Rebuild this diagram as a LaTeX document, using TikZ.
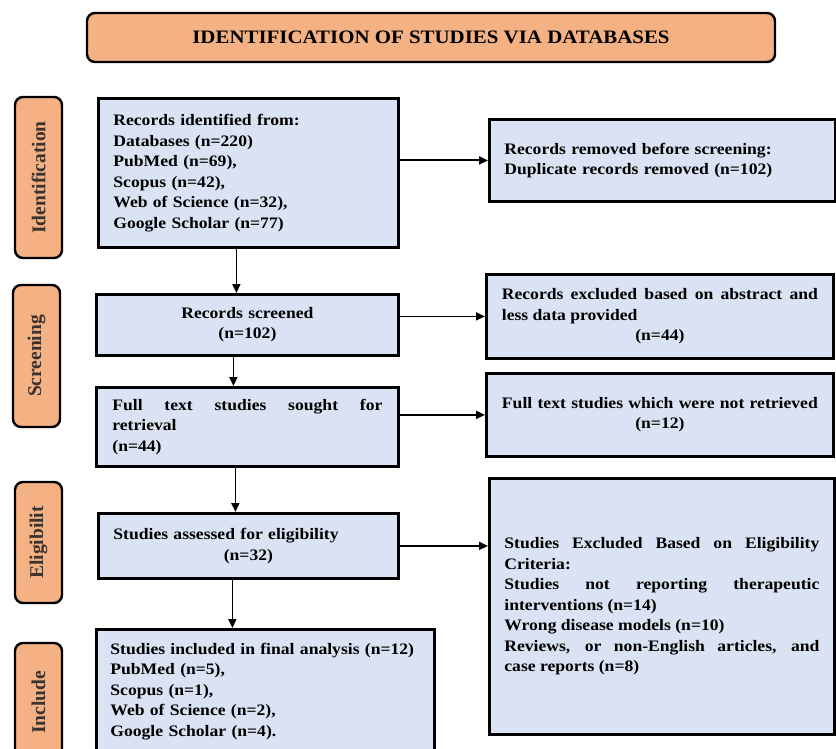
\documentclass[tikz,border=0pt]{standalone}
\usepackage{fontspec}
\setmainfont{Liberation Serif}[FakeStretch=1.1]
\newfontfamily\labelfont{Liberation Serif}
\usetikzlibrary{arrows.meta}
\definecolor{boxblue}{RGB}{218,227,243}
\definecolor{orangefill}{RGB}{244,177,131}
\definecolor{labeltext}{RGB}{60,50,45}
\begin{document}
\begin{tikzpicture}[x=1pt,y=-1pt,
 box/.style={draw, line width=2.8pt, fill=boxblue, inner xsep=15pt, inner ysep=2pt, anchor=north west, font=\fontsize{16}{20.5}\selectfont\bfseries},
 phase/.style={draw, line width=2.4pt, fill=orangefill, rounded corners=8pt, rotate=90, minimum height=47pt, inner sep=0pt, font=\labelfont\fontsize{19.5}{20}\selectfont\bfseries, text=labeltext},
 arr/.style={line width=1.8pt, -{Triangle[length=9pt,width=8pt]}}]
\clip (0,0) rectangle (836,749);
\fill[white] (0,0) rectangle (836,749);

\node[draw, line width=2.4pt, fill=orangefill, rounded corners=8pt, minimum width=688pt, minimum height=49pt, font=\fontsize{19}{22}\selectfont\bfseries] (title) at (431,37.5) {IDENTIFICATION OF STUDIES VIA DATABASES};

\node[phase, minimum width=161pt] (pid) at (38.5,177.5) {Identification};
\node[phase, minimum width=142pt] (psc) at (36.5,356) {Screening};
\node[phase, minimum width=121pt] (pel) at (38.5,542.5) {Eligibilit};
\node[phase, minimum width=119pt] (pin) at (38.5,702.5) {Include};

\node[box, minimum width=300pt, minimum height=149pt, text width=270pt, align=left] (b1) at (97,97)
 {Records identified from:\\Databases (n=220)\\PubMed (n=69),\\Scopus (n=42),\\Web of Science (n=32),\\Google Scholar (n=77)};
\node[box, minimum width=346pt, minimum height=82pt, text width=316pt, align=left] (rem) at (488,118)
 {Records removed before screening:\\Duplicate records removed (n=102)};
\node[box, minimum width=302pt, minimum height=61pt, text width=270pt, align=center] (scr) at (95,293)
 {Records screened\\(n=102)};
\node[box, minimum width=347pt, minimum height=84pt, text width=316pt, align=justify] (exab) at (485,273)
 {Records excluded based on abstract and\linebreak less data provided\\\makebox[316pt]{(n=44)}};
\node[box, minimum width=302pt, minimum height=79pt, text width=270pt, align=justify] (full) at (95,386)
 {Full text studies sought for\linebreak retrieval\\(n=44)};
\node[box, minimum width=347pt, minimum height=83pt, text width=316pt, align=center] (notr) at (485,372)
 {Full text studies which were not retrieved\\(n=12)};
\node[box, minimum width=300pt, minimum height=65pt, text width=270pt, inner xsep=13pt, align=left] (ass) at (97,512)
 {Studies assessed for eligibility\\\makebox[270pt]{(n=32)}};
\node[box, minimum width=345pt, minimum height=256pt, text width=315pt, align=justify] (excr) at (488,477)
 {Studies Excluded Based on Eligibility\linebreak Criteria:\\Studies not reporting therapeutic\linebreak interventions (n=14)\\Wrong disease models (n=10)\\Reviews, or non-English articles, and\linebreak case reports (n=8)};
\node[box, minimum width=338pt, minimum height=124pt, text width=310pt, inner xsep=13pt, align=left] (inc) at (95,628)
 {Studies included in final analysis (n=12)\\PubMed (n=5),\\Scopus (n=1),\\Web of Science (n=2),\\Google Scholar (n=4).};

\draw[arr] (rem.west -| b1.east) -- (rem.west);
\draw[arr] ([xshift=-12pt]b1.south) -- ([xshift=-12pt]b1.south |- scr.north);
\draw[arr] (exab.west -| scr.east) -- (exab.west);
\draw[arr] ([xshift=-14pt]scr.south) -- ([xshift=-14pt]scr.south |- full.north);
\draw[arr] (notr.west -| full.east) -- (notr.west);
\draw[arr] ([xshift=-12pt]full.south) -- ([xshift=-12pt]full.south |- ass.north);
\draw[arr] (ass.east) -- (ass.east -| excr.west);
\draw[arr] ([xshift=-16pt]ass.south) -- ([xshift=-16pt]ass.south |- inc.north);
\end{tikzpicture}
\end{document}
